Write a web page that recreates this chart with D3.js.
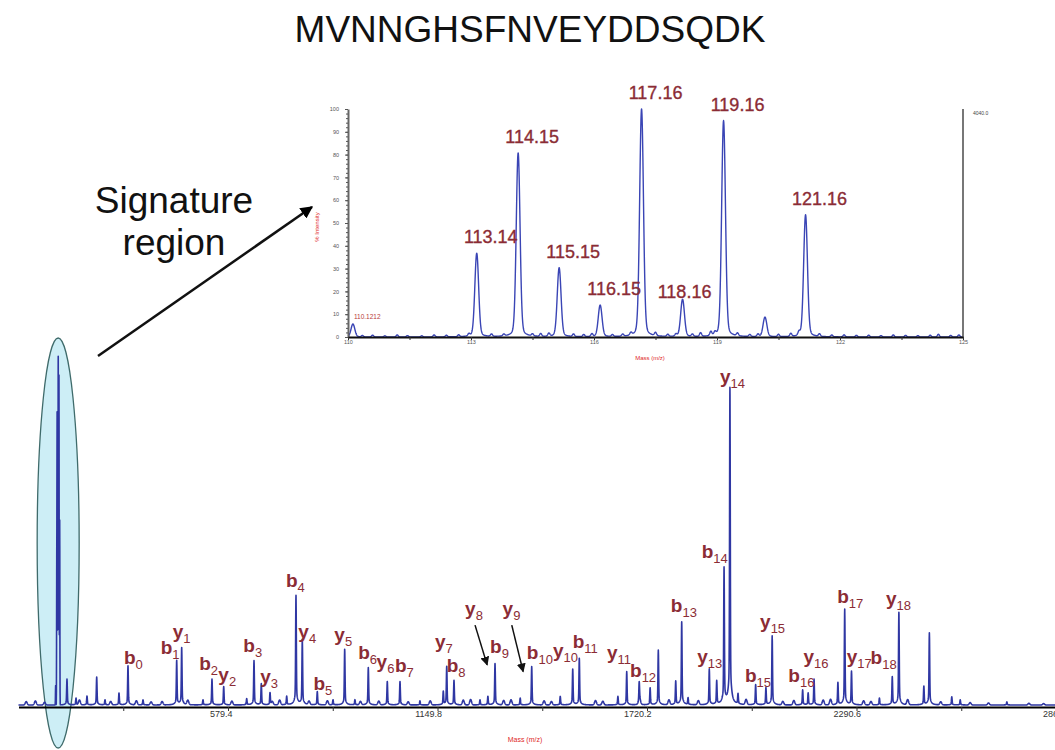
<!DOCTYPE html>
<html>
<head>
<meta charset="utf-8">
<script src="https://cdn.jsdelivr.net/npm/d3@7"></script>
<style>
  body { margin: 0; background: #fff; }
  svg text { font-family: "Liberation Sans", Arial, sans-serif; }
</style>
</head>
<body>
<svg id="chart" width="1055" height="750"></svg>
<script>
const title = "MVNNGHSFNVEYDDSQDK";

// reporter ion (signature) region, m/z and % intensity
const reporterMz    = [110.12, 113.14, 114.15, 115.15, 116.15, 117.16, 118.16, 119.16, 120.17, 121.16];
const reporterInt   = [5.7, 36.7, 80.7, 30.3, 13.9, 100, 16.4, 94.9, 8.6, 53.6];
const reporterLabel = ["110.1212", "113.14", "114.15", "115.15", "116.15", "117.16", "118.16", "119.16", "", "121.16"];
const insetNoiseMz  = [110.35, 110.6, 110.9, 111.2, 111.45, 111.8, 112.1, 112.4, 112.7, 112.95, 113.5, 113.8,
                       114.5, 114.7, 114.9, 115.5, 115.75, 115.95, 116.45, 116.7, 116.9, 117.5, 117.8, 118.0,
                       118.4, 118.6, 118.85, 118.95, 119.5, 119.8, 120.0, 120.5, 120.8, 121.0, 121.5, 121.8,
                       122.1, 122.4, 122.7, 123.0, 123.3, 123.6, 123.9, 124.2, 124.4, 124.7, 124.9];
const insetNoiseInt = [0.6, 0.8, 0.5, 0.9, 0.6, 0.5, 0.9, 0.7, 0.8, 1.0, 1.0, 0.8,
                       0.9, 1.2, 1.3, 1.1, 0.9, 1.2, 0.8, 0.9, 1.1, 1.4, 0.9, 1.0,
                       1.0, 1.6, 1.8, 1.3, 1.2, 0.9, 1.1, 1.0, 1.3, 1.6, 1.1, 0.8,
                       0.9, 0.7, 0.8, 0.6, 0.9, 0.7, 0.6, 0.8, 1.2, 0.7, 0.9];
const insetXTicks = [110, 113, 116, 119, 122, 125];
const insetYTicks = [0, 10, 20, 30, 40, 50, 60, 70, 80, 90, 100];
const insetMaxCounts = "4040.0";

// full MS/MS spectrum, m/z and intensity (% of base peak)
const peakMz  = [141, 165.6, 195.5, 221.9, 244.5, 282.6, 307.1, 348, 439.7, 453.3, 511.3, 535.8, 567.7, 630.3,
                 650.2, 670.1, 693.8, 739.2, 764.5, 781.7, 822.5, 865.3, 897.1, 925, 961.4, 1013.1, 1047.7,
                 1102, 1165.6, 1174.9, 1194.7, 1265.5, 1287, 1306.4, 1375, 1406.3, 1484, 1518, 1535.9, 1641,
                 1665, 1699, 1728.7, 1751, 1798.4, 1814.7, 1832, 1889.8, 1910, 1930, 1946, 1968, 2016, 2044,
                 2061, 2144, 2159, 2175, 2240, 2258.5, 2277, 2353, 2388, 2406, 2474, 2489, 2550, 2573, 2700];
const peakInt = [7.6, 2.0, 2.6, 8.2, 1.5, 3.5, 11.5, 1.5, 13.0, 16.8, 1.5, 7.6, 5.4, 1.8,
                 13.0, 6.2, 3.6, 2.5, 32.1, 19.1, 3.9, 1.5, 16.4, 1.5, 11.0, 6.9, 6.9,
                 1.2, 3.9, 11.3, 7.2, 1.5, 2.5, 12.2, 2.0, 11.3, 2.5, 10.5, 13.7, 2.5,
                 9.8, 5.4, 5.0, 16.1, 6.9, 24.4, 2.0, 10.5, 6.9, 39.9, 93.1, 3.0, 5.9, 5.0,
                 20.3, 4.4, 3.5, 7.6, 6.5, 28.1, 9.8, 2.0, 8.2, 27.2, 5.4, 21.2, 2.4, 1.5, 0.9];
const noiseMz  = [30, 55, 80, 175, 260, 330, 370, 400, 470, 590, 700, 720, 800, 850, 940, 990, 1070, 1130,
                  1220, 1240, 1330, 1350, 1440, 1460, 1580, 1600, 1700, 1780, 1860, 1990, 2090, 2120, 2200,
                  2220, 2310, 2330, 2430, 2520, 2600, 2650, 2760, 2800, 2840];
const noiseInt = [1.0, 1.2, 0.8, 1.4, 1.0, 1.2, 0.9, 1.0, 1.3, 1.1, 0.9, 1.4, 1.0, 1.2, 1.0, 1.1, 0.9, 1.2,
                  1.4, 1.6, 1.3, 1.5, 1.2, 1.0, 1.3, 1.1, 1.6, 1.4, 1.2, 1.5, 1.0, 1.3, 1.4,
                  1.6, 1.2, 1.0, 1.5, 0.9, 0.7, 0.6, 0.5, 0.4, 0.5];
const mainTicks = [579.4, 1149.8, 1720.2, 2290.6, 2861.0];
const mainMinorTicks = [294.2, 864.6, 1435.0, 2005.4, 2575.8];

// fragment ion annotations: placed at (m/z, intensity)
const ionType = ["b","b","y","b","y","b","y","b","y","b","y","b","y","b","y","b","y","b",
                 "y","b","y","b","y","b","b","y","b","y","b","y","b","y","b","y","b","y"];
const ionNum  = [0, 1, 1, 2, 2, 3, 3, 4, 4, 5, 5, 6, 6, 7, 7, 8, 8, 9,
                 9, 10, 10, 11, 11, 12, 13, 13, 14, 14, 15, 15, 16, 16, 17, 17, 18, 18];
const ionMz   = [296, 396, 429, 501, 553, 621, 667, 737, 771, 812, 869, 934, 984, 1034, 1143, 1175, 1225, 1293,
                 1327, 1393, 1464, 1518, 1611, 1674, 1785, 1857, 1869, 1919, 1987, 2028, 2105, 2146, 2238, 2264, 2329, 2371];
const ionInt  = [12.1, 15.0, 19.7, 10.3, 7.1, 15.7, 6.5, 34.8, 19.8, 4.4, 18.8, 13.4, 10.8, 9.8, 16.8, 9.8, 26.5, 15.2,
                 26.5, 13.4, 14.2, 16.7, 13.4, 8.3, 27.4, 12.3, 43.1, 94.6, 6.9, 22.6, 6.9, 12.3, 29.9, 12.3, 12.0, 29.4];
// arrows for y8 / y9: [fromMz, fromInt, toMz, toInt]
const ionArrows = [[1252, 23.5, 1285, 11.8], [1352, 23.5, 1383, 9.8]];

const traceColor = "#2f37a3";
const labelColor = "#8b2c35";

const svg = d3.select("#chart");
const defs = svg.append("defs");
defs.append("marker").attr("id", "headBig").attr("viewBox", "0 0 10 10")
  .attr("refX", 9).attr("refY", 5).attr("markerWidth", 5).attr("markerHeight", 5)
  .attr("orient", "auto").attr("markerUnits", "strokeWidth")
  .append("path").attr("d", "M0,0L10,5L0,10Z").attr("fill", "#000");
defs.append("marker").attr("id", "headSmall").attr("viewBox", "0 0 10 10")
  .attr("refX", 9).attr("refY", 5).attr("markerWidth", 6).attr("markerHeight", 6)
  .attr("orient", "auto").attr("markerUnits", "strokeWidth")
  .append("path").attr("d", "M0,0L10,5L0,10Z").attr("fill", "#111");

// pseudo-Voigt peak profile
function profile(m, peaks, sg, gam, wl) {
  let s = 0;
  for (const p of peaks) {
    const d = m - p.mz;
    if (Math.abs(d) > 8 * sg + 30 * gam) continue;
    s += p.int * ((1 - wl) * Math.exp(-d * d / (2 * sg * sg)) + wl / (1 + (d / gam) * (d / gam)));
  }
  return s;
}
function trace(lo, hi, step, groups) {
  let xs = d3.range(lo, hi + step / 2, step);
  groups.forEach(g => g.peaks.forEach(p => { if (p.mz > lo && p.mz < hi) xs.push(p.mz); }));
  xs.sort((a, b) => a - b);
  return xs.map(m => [m, d3.sum(groups, g => profile(m, g.peaks, g.sg, g.gam, g.wl))]);
}
const zipPeaks = (mz, it) => mz.map((m, i) => ({mz: m, int: it[i]}));

// ---------- title ----------
svg.append("text").attr("x", 530).attr("y", 42).attr("text-anchor", "middle")
  .attr("font-size", 37).attr("fill", "#111").text(title);

// ---------- main spectrum ----------
const x = d3.scaleLinear().domain([9, 2861]).range([18.5, 1066]);
const y = d3.scaleLinear().domain([0, 100]).range([705, 365]);

svg.append("ellipse").attr("cx", x(117)).attr("cy", 543).attr("rx", 21).attr("ry", 205)
  .attr("fill", "#cdeef6").attr("stroke", "#3f6b6b").attr("stroke-width", 1.3);

const mainData = trace(9, 2861, 0.4, [
  {peaks: zipPeaks(reporterMz, reporterInt), sg: 0.45, gam: 1.5, wl: 0},
  {peaks: zipPeaks(peakMz, peakInt), sg: 0.9, gam: 4, wl: 0.12},
  {peaks: zipPeaks(noiseMz, noiseInt), sg: 2.5, gam: 1, wl: 0}
]);
svg.append("path").datum(mainData)
  .attr("fill", "none").attr("stroke", traceColor).attr("stroke-width", 1.6)
  .attr("stroke-linejoin", "round")
  .attr("d", d3.line().x(d => x(d[0])).y(d => y(d[1])));

const axMain = svg.append("g").attr("transform", "translate(0,707)")
  .call(d3.axisBottom(x).tickValues(mainTicks).tickSize(4).tickSizeOuter(0)
    .tickFormat(d => d.toFixed(1)));
axMain.select(".domain").attr("stroke", "#000").attr("stroke-width", 2);
axMain.selectAll(".tick line").attr("stroke", "#333");
axMain.selectAll(".tick text").attr("text-anchor", "end").attr("dx", 4).attr("dy", 3)
  .attr("font-size", 9).attr("fill", "#333")
  .style("font-family", "'Liberation Sans', Arial, sans-serif");
svg.append("g").attr("transform", "translate(0,707)")
  .call(d3.axisBottom(x).tickValues(mainMinorTicks).tickSize(4).tickFormat(""))
  .call(g => g.select(".domain").remove())
  .selectAll(".tick line").attr("stroke", "#333");
svg.append("text").attr("x", 525).attr("y", 742).attr("text-anchor", "middle")
  .attr("font-size", 7).attr("fill", "#e02828").text("Mass (m/z)");

// ion labels
const ions = svg.append("g").selectAll("text")
  .data(ionType.map((t, i) => ({t, n: ionNum[i], mz: ionMz[i], it: ionInt[i]})))
  .join("text")
  .attr("x", d => x(d.mz)).attr("y", d => y(d.it)).attr("fill", labelColor);
ions.append("tspan").attr("font-size", 19).attr("font-weight", "bold").text(d => d.t);
ions.append("tspan").attr("font-size", 13).attr("dy", 5).text(d => d.n);

svg.append("g").selectAll("line").data(ionArrows).join("line")
  .attr("x1", d => x(d[0])).attr("y1", d => y(d[1]))
  .attr("x2", d => x(d[2])).attr("y2", d => y(d[3]))
  .attr("stroke", "#111").attr("stroke-width", 1.5).attr("marker-end", "url(#headSmall)");

// ---------- signature callout ----------
svg.append("text").attr("x", 174).attr("y", 213).attr("text-anchor", "middle")
  .attr("font-size", 37).attr("fill", "#111").text("Signature");
svg.append("text").attr("x", 174).attr("y", 255).attr("text-anchor", "middle")
  .attr("font-size", 37).attr("fill", "#111").text("region");
svg.append("line").attr("x1", 98).attr("y1", 356).attr("x2", 312).attr("y2", 207)
  .attr("stroke", "#111").attr("stroke-width", 2.5).attr("marker-end", "url(#headBig)");

// ---------- inset (reporter region) ----------
const xi = d3.scaleLinear().domain([110, 125]).range([348, 963]);
const yi = d3.scaleLinear().domain([0, 100]).range([337, 109]);

const insetData = trace(110, 125, 0.005, [
  {peaks: zipPeaks(reporterMz, reporterInt), sg: 0.045, gam: 0.1, wl: 0.08},
  {peaks: zipPeaks(insetNoiseMz, insetNoiseInt), sg: 0.025, gam: 0.1, wl: 0}
]);
svg.append("path").datum(insetData)
  .attr("fill", "none").attr("stroke", "#3a45b5").attr("stroke-width", 1.4)
  .attr("stroke-linejoin", "round")
  .attr("d", d3.line().x(d => xi(d[0])).y(d => yi(d[1])));

const axL = svg.append("g").attr("transform", "translate(348,0)")
  .call(d3.axisLeft(yi).tickValues(insetYTicks).tickSize(3).tickSizeOuter(0));
axL.select(".domain").attr("stroke", "#666").attr("stroke-width", 2);
axL.selectAll(".tick line").attr("stroke", "#555");
axL.selectAll(".tick text").attr("font-size", 5.5).attr("fill", "#555").attr("dx", -3)
  .style("font-family", "'Liberation Sans', Arial, sans-serif");
svg.append("g").attr("transform", "translate(348,0)")
  .call(d3.axisLeft(yi).tickValues(d3.range(0, 101, 2)).tickSize(2).tickFormat(""))
  .call(g => g.select(".domain").remove())
  .selectAll(".tick line").attr("stroke", "#555");

svg.append("line").attr("x1", xi(125)).attr("x2", xi(125)).attr("y1", yi(0)).attr("y2", yi(100))
  .attr("stroke", "#777").attr("stroke-width", 2);
svg.append("text").attr("x", xi(125) + 10).attr("y", yi(100) + 6)
  .attr("font-size", 5).attr("fill", "#444").text(insetMaxCounts);

const axB = svg.append("g").attr("transform", "translate(0,337)")
  .call(d3.axisBottom(xi).tickValues(insetXTicks).tickSize(3).tickSizeOuter(0).tickFormat(d3.format("d")));
axB.select(".domain").attr("stroke", "#111").attr("stroke-width", 1.8);
axB.selectAll(".tick line").attr("stroke", "#333");
axB.selectAll(".tick text").attr("font-size", 5.5).attr("fill", "#555").attr("dy", 1)
  .style("font-family", "'Liberation Sans', Arial, sans-serif");
svg.append("g").attr("transform", "translate(0,337)")
  .call(d3.axisBottom(xi).tickValues(d3.range(111.5, 125, 3)).tickSize(3).tickFormat(""))
  .call(g => g.select(".domain").remove())
  .selectAll(".tick line").attr("stroke", "#333");

svg.append("text").attr("x", 650).attr("y", 360).attr("text-anchor", "middle")
  .attr("font-size", 6).attr("fill", "#e02828").text("Mass (m/z)");
svg.append("text").attr("transform", "translate(319,227) rotate(-90)").attr("text-anchor", "middle")
  .attr("font-size", 6).attr("fill", "#e02828").text("% Intensity");

// inset peak labels
svg.append("g").selectAll("text")
  .data(reporterMz.map((m, i) => ({mz: m, it: reporterInt[i], lab: reporterLabel[i]})).filter(d => d.lab))
  .join("text")
  .attr("x", d => d.lab.length > 6 ? xi(d.mz) + 1 : xi(d.mz) + (d.lab === "118.16" ? 2 : 14))
  .attr("y", d => d.lab.length > 6 ? yi(d.it) - 5 : yi(d.it) - (d.lab === "118.16" ? 2 : 10))
  .attr("text-anchor", d => d.lab.length > 6 ? "start" : "middle")
  .attr("font-size", d => d.lab.length > 6 ? 6.5 : 18)
  .attr("fill", d => d.lab.length > 6 ? "#b83a3a" : labelColor)
  .attr("stroke", d => d.lab.length > 6 ? "none" : labelColor)
  .attr("stroke-width", 0.35)
  .text(d => d.lab);
</script>
</body>
</html>
